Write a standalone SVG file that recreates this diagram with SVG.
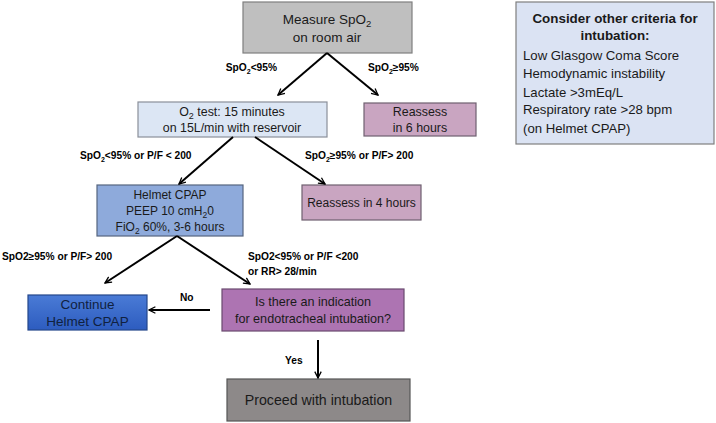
<svg xmlns="http://www.w3.org/2000/svg" width="716" height="423" viewBox="0 0 716 423">
<defs>
<marker id="ah" viewBox="0 0 10 10" refX="9" refY="5" markerWidth="8" markerHeight="8" markerUnits="userSpaceOnUse" orient="auto">
<polyline points="1,1 9,5 1,9" fill="none" stroke="#000" stroke-width="1.6"/>
</marker>
<linearGradient id="gblue" x1="0" y1="0" x2="0" y2="1">
<stop offset="0" stop-color="#4a7bd6"/>
<stop offset="1" stop-color="#2d5cbf"/>
</linearGradient>
<style>
text{font-family:"Liberation Sans",Arial,sans-serif;fill:#1a1a1a}
.lbl{font-size:10.2px;font-weight:bold;fill:#000}
.c{text-anchor:middle}
.box{stroke-width:1.2}
.conn line{stroke:#000;stroke-width:2;marker-end:url(#ah)}
</style>
</defs>
<rect width="716" height="423" fill="#fff"/>

<g id="measure">
<rect class="box" x="243" y="2" width="169" height="51" fill="#bfbfbf" stroke="#7f7f7f"/>
<text class="c" x="327" y="24" font-size="13.5">Measure SpO<tspan dy="3" font-size="9.5">2</tspan></text>
<text class="c" x="327" y="42" font-size="13.5">on room air</text>
</g>

<g id="o2test">
<rect class="box" x="138" y="102" width="189" height="35" fill="#dce6f4" stroke="#8a8f99"/>
<text class="c" x="232" y="116" font-size="12.4">O<tspan dy="3" font-size="9">2</tspan><tspan dy="-3"> test: 15 minutes</tspan></text>
<text class="c" x="232" y="132" font-size="12.4">on 15L/min with reservoir</text>
</g>

<g id="reassess6">
<rect class="box" x="364" y="103" width="112" height="33" fill="#c9a5c1" stroke="#6f6070"/>
<text class="c" x="420" y="116" font-size="12.4">Reassess</text>
<text class="c" x="420" y="132" font-size="12.4">in 6 hours</text>
</g>

<g id="helmet">
<rect class="box" x="97" y="185" width="146" height="51" fill="#8eaadb" stroke="#55657f"/>
<text class="c" x="170" y="199" font-size="12">Helmet CPAP</text>
<text class="c" x="170" y="215" font-size="12">PEEP 10 cmH<tspan dy="3" font-size="8.5">2</tspan><tspan dy="-3">0</tspan></text>
<text class="c" x="170" y="231" font-size="12">FiO<tspan dy="3" font-size="8.5">2</tspan><tspan dy="-3"> 60%, 3-6 hours</tspan></text>
</g>

<g id="reassess4">
<rect class="box" x="302" y="185" width="119" height="35" fill="#c9a5c1" stroke="#6f6070"/>
<text class="c" x="361.5" y="207" font-size="12">Reassess  in 4 hours</text>
</g>

<g id="continue">
<rect class="box" x="28" y="295" width="119" height="35" fill="url(#gblue)" stroke="#24468a"/>
<text class="c" x="87.5" y="309" font-size="13.5" style="fill:#10213f">Continue</text>
<text class="c" x="87.5" y="326" font-size="13.5" style="fill:#10213f">Helmet CPAP</text>
</g>

<g id="question">
<rect class="box" x="222" y="289" width="182" height="42" fill="#ad74b2" stroke="#6a4a6f"/>
<text class="c" x="313" y="306" font-size="12.6">Is there an indication</text>
<text class="c" x="313" y="323" font-size="12.6">for endotracheal intubation?</text>
</g>

<g id="proceed">
<rect class="box" x="227" y="379" width="183" height="42" fill="#8d8989" stroke="#555"/>
<text class="c" x="318.5" y="405" font-size="14.2">Proceed with intubation</text>
</g>

<g id="criteria">
<rect class="box" x="516" y="2" width="198" height="142" fill="#dbe3f3" stroke="#7f7f7f"/>
<text class="c" x="615" y="23" font-size="13.4" font-weight="bold">Consider other criteria for</text>
<text class="c" x="615" y="40" font-size="13.4" font-weight="bold">intubation:</text>
<text x="523" y="60" font-size="13.2">Low Glasgow Coma Score</text>
<text x="523" y="78" font-size="13.2">Hemodynamic instability</text>
<text x="523" y="97" font-size="13.2">Lactate &gt;3mEq/L</text>
<text x="523" y="114" font-size="13.2">Respiratory rate &gt;28 bpm</text>
<text x="523" y="133" font-size="13.2">(on Helmet CPAP)</text>
</g>

<g id="connectors" class="conn">
<line x1="327" y1="53" x2="278" y2="95"/>
<line x1="327" y1="53" x2="378" y2="95"/>
<line x1="233" y1="137" x2="179" y2="184"/>
<line x1="255" y1="137" x2="325" y2="184"/>
<line x1="177" y1="236" x2="105" y2="283"/>
<line x1="177" y1="236" x2="250" y2="284"/>
<line x1="210" y1="310" x2="149" y2="310"/>
<line x1="318" y1="340" x2="318" y2="378"/>
</g>

<g id="labels">
<text class="lbl" x="277" y="71" text-anchor="end">SpO<tspan dy="2.5" font-size="7">2</tspan><tspan dy="-2.5">&lt;95%</tspan></text>
<text class="lbl" x="368" y="71">SpO<tspan dy="2.5" font-size="7">2</tspan><tspan dy="-2.5">≥95%</tspan></text>
<text class="lbl" x="80" y="159">SpO<tspan dy="2.5" font-size="7">2</tspan><tspan dy="-2.5">&lt;95% or P/F &lt; 200</tspan></text>
<text class="lbl" x="305" y="159">SpO<tspan dy="2.5" font-size="7">2</tspan><tspan dy="-2.5">≥95% or P/F&gt; 200</tspan></text>
<text class="lbl" x="2" y="260">SpO2≥95% or P/F&gt; 200</text>
<text class="lbl" x="248" y="260">SpO2&lt;95% or P/F &lt;200</text>
<text class="lbl" x="248" y="275">or RR&gt; 28/min</text>
<text class="lbl" x="180" y="301">No</text>
<text class="lbl" x="285" y="364">Yes</text>
</g>
</svg>
